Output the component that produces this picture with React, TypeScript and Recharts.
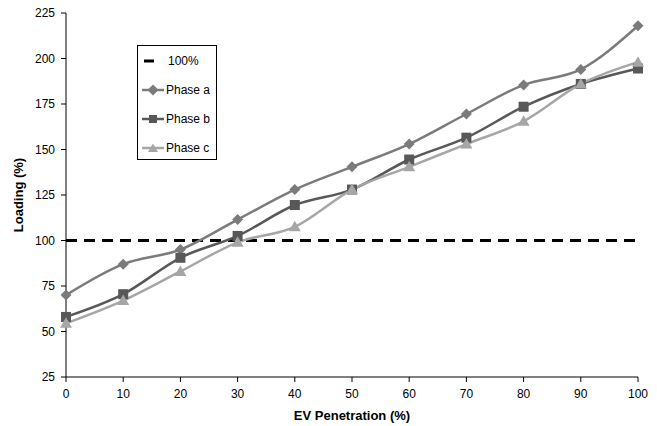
import { LineChart, Line, XAxis, YAxis, ReferenceLine, Label } from "recharts";

const penetration = [0, 10, 20, 30, 40, 50, 60, 70, 80, 90, 100];
const phaseA = [70, 87, 95, 111.5, 128, 140.5, 153, 169.5, 185.5, 194, 218];
const phaseB = [58, 70.5, 90.5, 102.5, 119.5, 128, 144.5, 156.5, 173.5, 186, 194.5];
const phaseC = [54.5, 67, 83, 99, 107.5, 128, 140.5, 153, 165.5, 186, 198];
const xTicks = [0, 10, 20, 30, 40, 50, 60, 70, 80, 90, 100];
const yTicks = [25, 50, 75, 100, 125, 150, 175, 200, 225];
const limit = 100;

const data = penetration.map((p, i) => ({ p, a: phaseA[i], b: phaseB[i], c: phaseC[i] }));

const colors = { a: "#7b7b7b", b: "#585858", c: "#a6a6a6" };
const font = "'Liberation Sans', Arial, sans-serif";

const Diamond = (props: any) => {
    const { cx, cy, fill } = props;
    if (cx == null || cy == null) return null;
    const r = 5.5;
    return <polygon points={`${cx},${cy - r} ${cx + r},${cy} ${cx},${cy + r} ${cx - r},${cy}`} fill={fill} />;
};

const Square = (props: any) => {
    const { cx, cy, fill } = props;
    if (cx == null || cy == null) return null;
    return <rect x={cx - 5} y={cy - 5} width={10} height={10} fill={fill} />;
};

const Triangle = (props: any) => {
    const { cx, cy, fill } = props;
    if (cx == null || cy == null) return null;
    return <polygon points={`${cx},${cy - 6} ${cx + 6},${cy + 4.5} ${cx - 6},${cy + 4.5}`} fill={fill} />;
};

const legendItems = [
    { name: "100%", color: "#000", kind: "dash" },
    { name: "Phase a", color: colors.a, kind: "diamond" },
    { name: "Phase b", color: colors.b, kind: "square" },
    { name: "Phase c", color: colors.c, kind: "triangle" },
];

const LegendMark = ({ kind, color }: { kind: string; color: string }) => (
    <svg width={24} height={12} style={{ marginRight: 2 }}>
        {kind === "dash" ? (
            <line x1={2} y1={6} x2={12} y2={6} stroke={color} strokeWidth={3} />
        ) : (
            <line x1={0} y1={6} x2={22} y2={6} stroke={color} strokeWidth={2.5} />
        )}
        {kind === "diamond" && <Diamond cx={11} cy={6} fill={color} />}
        {kind === "square" && <rect x={7} y={2} width={8} height={8} fill={color} />}
        {kind === "triangle" && <polygon points="11,1.5 16,10 6,10" fill={color} />}
    </svg>
);

const YTitle = (props: any) => {
    const { viewBox } = props;
    const y = viewBox.y + viewBox.height / 2;
    return (
        <text x={18} y={y} transform={`rotate(-90, 18, ${y})`} textAnchor="middle" dominantBaseline="central"
            fontFamily={font} fontSize={13} fontWeight="bold" fill="#000">
            Loading (%)
        </text>
    );
};

const App = () => {
    return (
        <div style={{ position: "absolute", left: 0, top: 0, width: 657, height: 426, background: "#fff" }}>
            <LineChart width={657} height={426} data={data} margin={{ top: 13, right: 19, bottom: 0, left: 20 }}>
                <XAxis dataKey="p" type="number" domain={[0, 100]} ticks={xTicks} height={49}
                    tick={{ fontFamily: font, fontSize: 12, fill: "#000" }} tickSize={5} tickMargin={7}
                    axisLine={{ stroke: "#000" }} tickLine={{ stroke: "#000" }}>
                    <Label value="EV Penetration (%)" position="insideBottom" offset={6}
                        style={{ fontFamily: font, fontSize: 13, fontWeight: "bold", fill: "#000" }} />
                </XAxis>
                <YAxis type="number" domain={[25, 225]} ticks={yTicks} width={46} interval={0}
                    tick={{ fontFamily: font, fontSize: 12, fill: "#000" }} tickSize={5} tickMargin={6}
                    axisLine={{ stroke: "#000" }} tickLine={{ stroke: "#000" }}>
                    <Label content={<YTitle />} />
                </YAxis>
                <ReferenceLine y={limit} stroke="#000" strokeWidth={3} strokeDasharray="11 7" />
                <Line type="monotone" dataKey="a" stroke={colors.a} strokeWidth={2.5} dot={<Diamond fill={colors.a} />}
                    activeDot={false} isAnimationActive={false} />
                <Line type="monotone" dataKey="b" stroke={colors.b} strokeWidth={2.5} dot={<Square fill={colors.b} />}
                    activeDot={false} isAnimationActive={false} />
                <Line type="monotone" dataKey="c" stroke={colors.c} strokeWidth={2.5} dot={<Triangle fill={colors.c} />}
                    activeDot={false} isAnimationActive={false} />
            </LineChart>
            <div style={{
                position: "absolute", left: 137, top: 45, width: 80, height: 115, border: "1px solid #000",
                boxSizing: "border-box", fontFamily: font, fontSize: 12, color: "#000", background: "#fff",
            }}>
                {legendItems.map((it, i) => (
                    <div key={it.name} style={{ position: "absolute", left: 4, top: 8 + i * 29, display: "flex", alignItems: "center" }}>
                        <LegendMark kind={it.kind} color={it.color} />
                        <span style={{ marginLeft: it.kind === "dash" ? 0 : -2 }}>{it.name}</span>
                    </div>
                ))}
            </div>
        </div>
    );
};

export default App;
